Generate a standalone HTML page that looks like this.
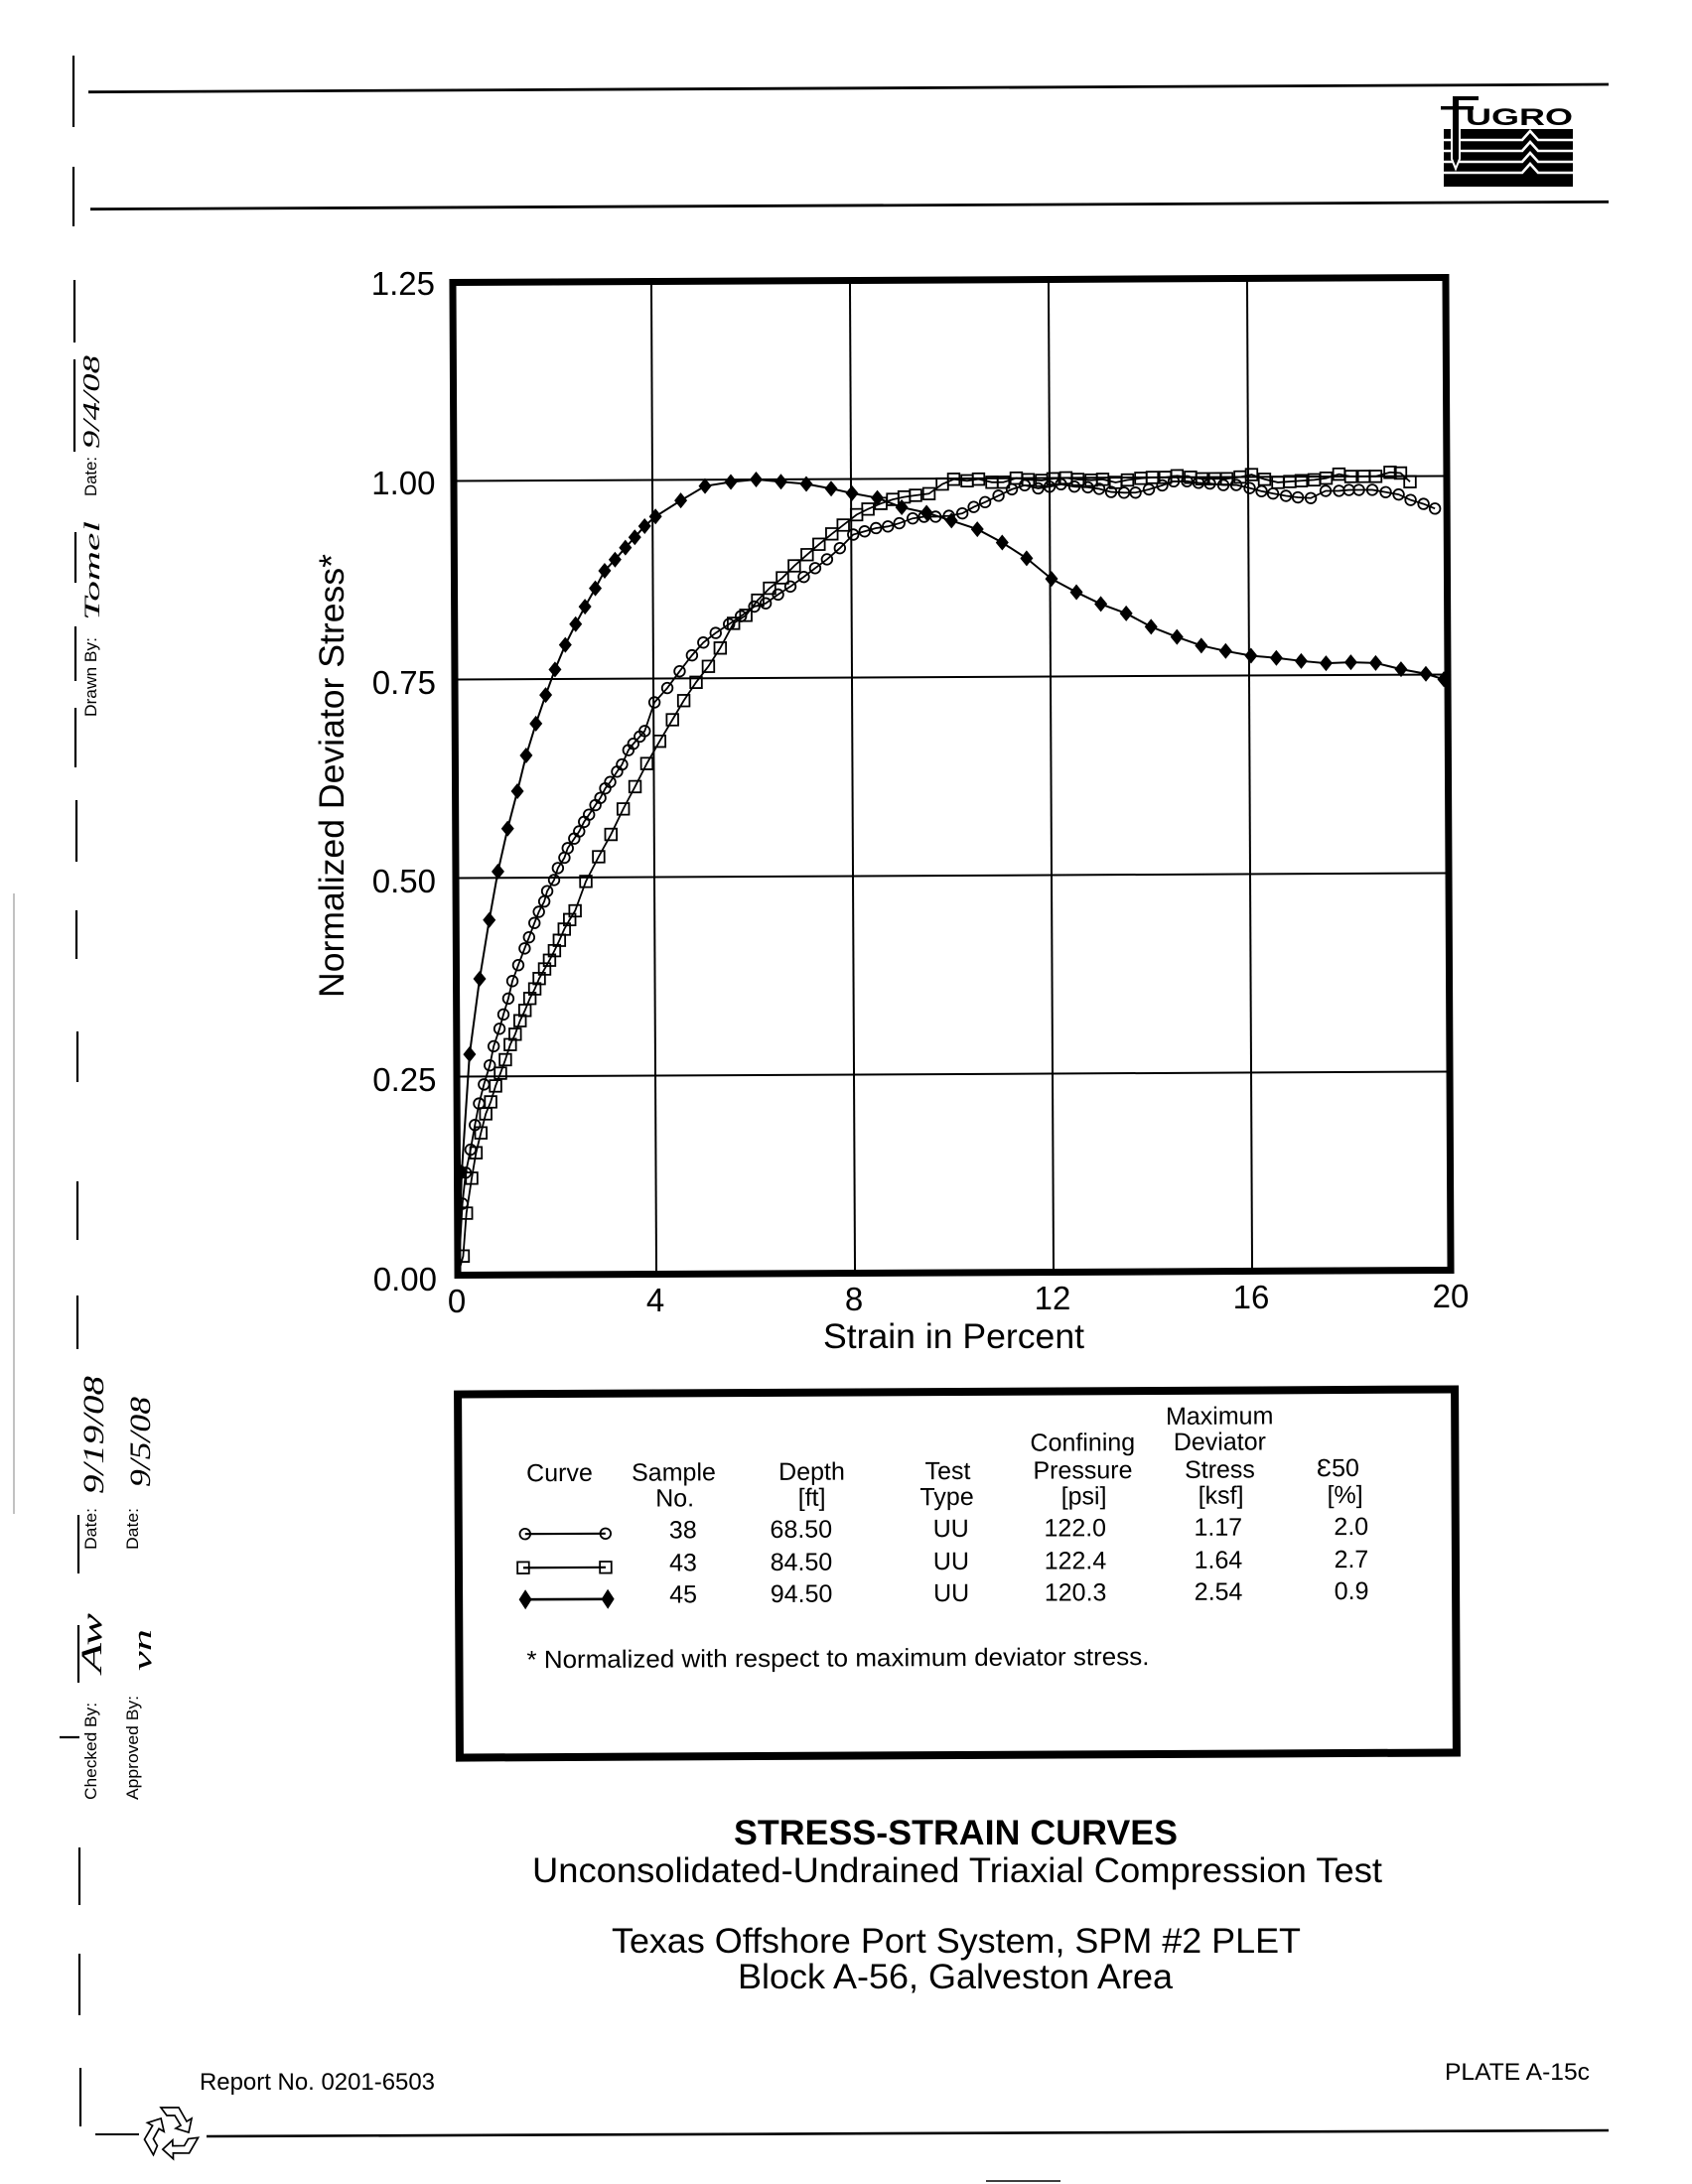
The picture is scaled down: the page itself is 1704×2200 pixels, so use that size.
<!DOCTYPE html>
<html><head><meta charset="utf-8">
<style>
html,body{margin:0;padding:0;background:#fff}
svg{display:block}
text{font-family:"Liberation Sans",Arial,sans-serif;fill:#000}
.hw{font-family:"Liberation Serif",serif;font-style:italic}
</style></head>
<body>
<svg xmlns="http://www.w3.org/2000/svg" width="1704" height="2200" viewBox="0 0 1704 2200">
<rect width="1704" height="2200" fill="#fff"/>
<defs>
<circle id="c" r="5.3" fill="none" stroke="#000" stroke-width="1.8"/>
<rect id="s" x="-5.8" y="-5.8" width="11.6" height="11.6" fill="none" stroke="#000" stroke-width="1.8"/>
<path id="d" d="M0,-8L6.5,0L0,8L-6.5,0Z" fill="#000"/>
<path id="dl" d="M0,-10L6.5,0L0,10L-6.5,0Z" fill="#000"/>
</defs>

<!-- header rules -->
<line x1="89" y1="92.7" x2="1620" y2="85" stroke="#000" stroke-width="2.8"/>
<line x1="91" y1="210.7" x2="1620" y2="203.3" stroke="#000" stroke-width="2.8"/>

<!-- Fugro logo -->
<g>
<rect x="1454" y="130" width="130" height="58" fill="#000"/>
<g fill="none" stroke="#fff" stroke-width="2.6">
<polyline points="1454,141 1533,141 1541,132 1549,141 1584,141"/>
<polyline points="1454,152 1533,152 1541,143 1549,152 1584,152"/>
<polyline points="1454,163 1533,163 1541,154 1549,163 1584,163"/>
<polyline points="1454,174 1533,174 1541,165 1549,174 1584,174"/>
</g>
<path d="M1462,130 L1462,160 L1466,170 L1470,160 L1470,130" fill="#000" stroke="#fff" stroke-width="2"/>
<rect x="1463" y="98" width="6" height="34" fill="#000"/>
<rect x="1463" y="97" width="26" height="4" fill="#000"/>
<rect x="1451" y="107" width="33" height="3.5" fill="#000"/>
<text x="1476" y="126" font-size="24" font-weight="bold" textLength="108" lengthAdjust="spacingAndGlyphs">UGRO</text>
</g>

<!-- left margin lines -->
<g stroke="#000" stroke-width="2.2">
<line x1="74" y1="56" x2="74" y2="128"/>
<line x1="74" y1="168" x2="74" y2="228"/>
<line x1="75" y1="282" x2="75" y2="345"/>
<line x1="75" y1="362" x2="75" y2="455"/>
<line x1="76" y1="536" x2="76" y2="587"/>
<line x1="76" y1="631" x2="76" y2="686"/>
<line x1="76" y1="713" x2="76" y2="773"/>
<line x1="77" y1="806" x2="77" y2="868"/>
<line x1="77" y1="917" x2="77" y2="966"/>
<line x1="78" y1="1039" x2="78" y2="1090"/>
<line x1="78" y1="1190" x2="78" y2="1249"/>
<line x1="78" y1="1305" x2="78" y2="1359"/>
<line x1="79" y1="1526" x2="79" y2="1585"/>
<line x1="79" y1="1637" x2="79" y2="1695"/>
<line x1="60" y1="1750" x2="80" y2="1750"/>
<line x1="80" y1="1861" x2="80" y2="1919"/>
<line x1="80" y1="1968" x2="80" y2="2030"/>
<line x1="81" y1="2083" x2="81" y2="2142"/>
</g>
<line x1="14" y1="900" x2="14" y2="1525" stroke="#999" stroke-width="1.2"/>

<!-- left margin text -->
<text transform="translate(97,500) rotate(-90)" font-size="17" textLength="40" lengthAdjust="spacingAndGlyphs">Date:</text>
<text class="hw" transform="translate(100,452) rotate(-90)" font-size="24" textLength="94" lengthAdjust="spacingAndGlyphs">9/4/08</text>
<text transform="translate(97,722) rotate(-90)" font-size="17" textLength="80" lengthAdjust="spacingAndGlyphs">Drawn By:</text>
<text class="hw" transform="translate(100,625) rotate(-90)" font-size="22" textLength="100" lengthAdjust="spacingAndGlyphs">Tomel</text>
<text transform="translate(97,1561) rotate(-90)" font-size="17" textLength="42" lengthAdjust="spacingAndGlyphs">Date:</text>
<text transform="translate(139,1561) rotate(-90)" font-size="17" textLength="42" lengthAdjust="spacingAndGlyphs">Date:</text>
<text class="hw" transform="translate(104,1505) rotate(-90)" font-size="30" textLength="119" lengthAdjust="spacingAndGlyphs">9/19/08</text>
<text class="hw" transform="translate(151,1498) rotate(-90)" font-size="30" textLength="91" lengthAdjust="spacingAndGlyphs">9/5/08</text>
<text transform="translate(97,1813) rotate(-90)" font-size="17" textLength="98" lengthAdjust="spacingAndGlyphs">Checked By:</text>
<text transform="translate(139,1813) rotate(-90)" font-size="17" textLength="105" lengthAdjust="spacingAndGlyphs">Approved By:</text>
<text class="hw" transform="translate(102,1685) rotate(-90)" font-size="30" textLength="60" lengthAdjust="spacingAndGlyphs">Aw</text>
<text class="hw" transform="translate(152,1683) rotate(-90)" font-size="26" textLength="42" lengthAdjust="spacingAndGlyphs">vn</text>

<!-- axis labels -->
<g font-size="33" text-anchor="end">
<text x="438" y="297">1.25</text>
<text x="438.5" y="498">1.00</text>
<text x="439" y="699">0.75</text>
<text x="439" y="899">0.50</text>
<text x="439.5" y="1099">0.25</text>
<text x="440" y="1300">0.00</text>
</g>
<g font-size="33" text-anchor="middle">
<text x="460" y="1322">0</text>
<text x="660" y="1321">4</text>
<text x="860" y="1320">8</text>
<text x="1060" y="1319">12</text>
<text x="1260" y="1318">16</text>
<text x="1461" y="1317">20</text>
</g>
<text x="829" y="1358" font-size="35" textLength="263" lengthAdjust="spacingAndGlyphs">Strain in Percent</text>
<text transform="translate(346,1005) rotate(-90)" font-size="35" textLength="447" lengthAdjust="spacingAndGlyphs">Normalized Deviator Stress*</text>

<!-- plot -->
<g transform="rotate(-0.29 958 782) translate(-2 -1)">
<g stroke="#000" stroke-width="2">
<line x1="660.5" y1="283" x2="660.5" y2="1283"/>
<line x1="860.5" y1="283" x2="860.5" y2="1283"/>
<line x1="1060.5" y1="283" x2="1060.5" y2="1283"/>
<line x1="1260.5" y1="283" x2="1260.5" y2="1283"/>
<line x1="460.5" y1="483" x2="1460.5" y2="483"/>
<line x1="460.5" y1="683" x2="1460.5" y2="683"/>
<line x1="460.5" y1="883" x2="1460.5" y2="883"/>
<line x1="460.5" y1="1083" x2="1460.5" y2="1083"/>
</g>

<!-- series 38 circles -->
<polyline fill="none" stroke="#000" stroke-width="1.8" points="460.5,1283 463,1251 465.5,1211 469,1179.8 474,1156.6 478.5,1131.8 482.8,1110.2 487.8,1091 493.8,1071.8 497.8,1052.6 503.8,1035 507.8,1020.6 512.8,1004.6 517,987 523,971 529.5,954.2 534,943 539.5,928.6 544,917.4 549.5,907 552.5,896.6 559.5,885.4 563.4,873.4 570,863 573.4,853.4 580,843.8 585,836.6 590,827 595,819.8 601.5,810.2 606.5,803 611.5,793.4 616.5,787 623.5,776.6 628.5,769.4 635,755 640,748.6 646.5,741.4 651.5,735.8 661.5,707 674.5,692.6 687,675.8 699.5,659.8 711,647 723.5,637.4 737,628.6 749,620.6 762.5,611 774,607.8 786.5,599 799,591 812.5,581.4 824,572.6 836,563.8 849,552.6 862.5,539 874,535.8 885.5,532.6 897.5,531 909,527.8 922.5,523 934,521.4 945.5,521.4 959,520.6 972.5,518.2 984,511.8 995.5,507 1009,500.6 1022.5,494.2 1035.5,490.2 1049,493.4 1060.5,491.8 1072,489.4 1085.5,491.8 1099,492.6 1110.5,494.2 1122.5,497.4 1135.5,498.2 1147,498.2 1160.5,495 1174,491 1185.5,487 1199,487 1210.5,488.6 1222,489.4 1235.5,491 1248.5,491 1262,494.2 1274,497.4 1285.5,499.8 1298.5,502.2 1310.5,503.8 1323.5,504.6 1338.5,497.4 1352,497.4 1362,496.6 1372,496.6 1385.5,496.6 1399,499 1412,501.4 1424,507 1437,511 1448.5,515.8"/>
<g>
<use href="#c" x="465.5" y="1211"/><use href="#c" x="469" y="1179.8"/><use href="#c" x="474" y="1156.6"/><use href="#c" x="478.5" y="1131.8"/><use href="#c" x="482.8" y="1110.2"/><use href="#c" x="487.8" y="1091"/><use href="#c" x="493.8" y="1071.8"/><use href="#c" x="497.8" y="1052.6"/><use href="#c" x="503.8" y="1035"/><use href="#c" x="507.8" y="1020.6"/><use href="#c" x="512.8" y="1004.6"/><use href="#c" x="517" y="987"/><use href="#c" x="523" y="971"/><use href="#c" x="529.5" y="954.2"/><use href="#c" x="534" y="943"/><use href="#c" x="539.5" y="928.6"/><use href="#c" x="544" y="917.4"/><use href="#c" x="549.5" y="907"/><use href="#c" x="552.5" y="896.6"/><use href="#c" x="559.5" y="885.4"/><use href="#c" x="563.4" y="873.4"/><use href="#c" x="570" y="863"/><use href="#c" x="573.4" y="853.4"/><use href="#c" x="580" y="843.8"/><use href="#c" x="585" y="836.6"/><use href="#c" x="590" y="827"/><use href="#c" x="595" y="819.8"/><use href="#c" x="601.5" y="810.2"/><use href="#c" x="606.5" y="803"/><use href="#c" x="611.5" y="793.4"/><use href="#c" x="616.5" y="787"/><use href="#c" x="623.5" y="776.6"/><use href="#c" x="628.5" y="769.4"/><use href="#c" x="635" y="755"/><use href="#c" x="640" y="748.6"/><use href="#c" x="646.5" y="741.4"/><use href="#c" x="651.5" y="735.8"/><use href="#c" x="661.5" y="707"/><use href="#c" x="674.5" y="692.6"/><use href="#c" x="687" y="675.8"/><use href="#c" x="699.5" y="659.8"/><use href="#c" x="711" y="647"/><use href="#c" x="723.5" y="637.4"/><use href="#c" x="737" y="628.6"/><use href="#c" x="749" y="620.6"/><use href="#c" x="762.5" y="611"/><use href="#c" x="774" y="607.8"/><use href="#c" x="786.5" y="599"/><use href="#c" x="799" y="591"/><use href="#c" x="812.5" y="581.4"/><use href="#c" x="824" y="572.6"/><use href="#c" x="836" y="563.8"/><use href="#c" x="849" y="552.6"/><use href="#c" x="862.5" y="539"/><use href="#c" x="874" y="535.8"/><use href="#c" x="885.5" y="532.6"/><use href="#c" x="897.5" y="531"/><use href="#c" x="909" y="527.8"/><use href="#c" x="922.5" y="523"/><use href="#c" x="934" y="521.4"/><use href="#c" x="945.5" y="521.4"/><use href="#c" x="959" y="520.6"/><use href="#c" x="972.5" y="518.2"/><use href="#c" x="984" y="511.8"/><use href="#c" x="995.5" y="507"/><use href="#c" x="1009" y="500.6"/><use href="#c" x="1022.5" y="494.2"/><use href="#c" x="1035.5" y="490.2"/><use href="#c" x="1049" y="493.4"/><use href="#c" x="1060.5" y="491.8"/><use href="#c" x="1072" y="489.4"/><use href="#c" x="1085.5" y="491.8"/><use href="#c" x="1099" y="492.6"/><use href="#c" x="1110.5" y="494.2"/><use href="#c" x="1122.5" y="497.4"/><use href="#c" x="1135.5" y="498.2"/><use href="#c" x="1147" y="498.2"/><use href="#c" x="1160.5" y="495"/><use href="#c" x="1174" y="491"/><use href="#c" x="1185.5" y="487"/><use href="#c" x="1199" y="487"/><use href="#c" x="1210.5" y="488.6"/><use href="#c" x="1222" y="489.4"/><use href="#c" x="1235.5" y="491"/><use href="#c" x="1248.5" y="491"/><use href="#c" x="1262" y="494.2"/><use href="#c" x="1274" y="497.4"/><use href="#c" x="1285.5" y="499.8"/><use href="#c" x="1298.5" y="502.2"/><use href="#c" x="1310.5" y="503.8"/><use href="#c" x="1323.5" y="504.6"/><use href="#c" x="1338.5" y="497.4"/><use href="#c" x="1352" y="497.4"/><use href="#c" x="1362" y="496.6"/><use href="#c" x="1372" y="496.6"/><use href="#c" x="1385.5" y="496.6"/><use href="#c" x="1399" y="499"/><use href="#c" x="1412" y="501.4"/><use href="#c" x="1424" y="507"/><use href="#c" x="1437" y="511"/><use href="#c" x="1448.5" y="515.8"/>
</g>

<!-- series 43 squares -->
<polyline fill="none" stroke="#000" stroke-width="1.8" points="460.5,1283 466,1263.8 469.5,1220.6 475,1185.4 479.5,1159.8 484.5,1139.8 489.5,1120.6 494.5,1108.6 499.5,1092.6 504.5,1079.8 509.5,1066.2 514.5,1051 519.5,1040.6 524.5,1027 529.5,1016.6 534.5,1004.6 539.5,995 544,984.6 549.5,975 554.5,966.2 559.5,956.6 564.5,946.2 569.5,935 575,925.4 580.5,916.6 591.5,887 604.5,862.2 617,839.8 629.5,814.2 641.5,791.8 653.5,768.6 666.5,746.2 679.5,724.6 691,705.4 703.5,687 716,671 728,652.6 741.5,627.8 754,619.8 766,604.6 778,592.6 791,582.2 803,570.2 816,559 828,548.6 841,538.2 852.5,529.4 866,519 877.5,513.4 890.5,507.8 902.5,503.8 914,501.4 925.5,499.8 939,498.2 952.5,488.6 964,483.8 977.5,485.4 989,483.8 1002.5,487 1014,487 1027,483 1039,484.6 1052.5,485.4 1064,483.8 1077,483 1089,484.6 1102.5,485.4 1114,484.6 1127,487.8 1139,485.4 1152.5,483.8 1164,483 1177,483 1189,481.4 1202.5,483 1214,484.6 1227,484.6 1239,484.6 1252.5,483 1264,480.6 1277,485.4 1290.5,488.6 1302.5,487.8 1314,487 1327,486.2 1339,484.6 1352,480.6 1364,483 1377,483 1389,483 1403.5,479 1414,479.8 1423.5,488.6"/>
<g>
<use href="#s" x="466" y="1263.8"/><use href="#s" x="469.5" y="1220.6"/><use href="#s" x="475" y="1185.4"/><use href="#s" x="479.5" y="1159.8"/><use href="#s" x="484.5" y="1139.8"/><use href="#s" x="489.5" y="1120.6"/><use href="#s" x="494.5" y="1108.6"/><use href="#s" x="499.5" y="1092.6"/><use href="#s" x="504.5" y="1079.8"/><use href="#s" x="509.5" y="1066.2"/><use href="#s" x="514.5" y="1051"/><use href="#s" x="519.5" y="1040.6"/><use href="#s" x="524.5" y="1027"/><use href="#s" x="529.5" y="1016.6"/><use href="#s" x="534.5" y="1004.6"/><use href="#s" x="539.5" y="995"/><use href="#s" x="544" y="984.6"/><use href="#s" x="549.5" y="975"/><use href="#s" x="554.5" y="966.2"/><use href="#s" x="559.5" y="956.6"/><use href="#s" x="564.5" y="946.2"/><use href="#s" x="569.5" y="935"/><use href="#s" x="575" y="925.4"/><use href="#s" x="580.5" y="916.6"/><use href="#s" x="591.5" y="887"/><use href="#s" x="604.5" y="862.2"/><use href="#s" x="617" y="839.8"/><use href="#s" x="629.5" y="814.2"/><use href="#s" x="641.5" y="791.8"/><use href="#s" x="653.5" y="768.6"/><use href="#s" x="666.5" y="746.2"/><use href="#s" x="679.5" y="724.6"/><use href="#s" x="691" y="705.4"/><use href="#s" x="703.5" y="687"/><use href="#s" x="716" y="671"/><use href="#s" x="728" y="652.6"/><use href="#s" x="741.5" y="627.8"/><use href="#s" x="754" y="619.8"/><use href="#s" x="766" y="604.6"/><use href="#s" x="778" y="592.6"/><use href="#s" x="791" y="582.2"/><use href="#s" x="803" y="570.2"/><use href="#s" x="816" y="559"/><use href="#s" x="828" y="548.6"/><use href="#s" x="841" y="538.2"/><use href="#s" x="852.5" y="529.4"/><use href="#s" x="866" y="519"/><use href="#s" x="877.5" y="513.4"/><use href="#s" x="890.5" y="507.8"/><use href="#s" x="902.5" y="503.8"/><use href="#s" x="914" y="501.4"/><use href="#s" x="925.5" y="499.8"/><use href="#s" x="939" y="498.2"/><use href="#s" x="952.5" y="488.6"/><use href="#s" x="964" y="483.8"/><use href="#s" x="977.5" y="485.4"/><use href="#s" x="989" y="483.8"/><use href="#s" x="1002.5" y="487"/><use href="#s" x="1014" y="487"/><use href="#s" x="1027" y="483"/><use href="#s" x="1039" y="484.6"/><use href="#s" x="1052.5" y="485.4"/><use href="#s" x="1064" y="483.8"/><use href="#s" x="1077" y="483"/><use href="#s" x="1089" y="484.6"/><use href="#s" x="1102.5" y="485.4"/><use href="#s" x="1114" y="484.6"/><use href="#s" x="1127" y="487.8"/><use href="#s" x="1139" y="485.4"/><use href="#s" x="1152.5" y="483.8"/><use href="#s" x="1164" y="483"/><use href="#s" x="1177" y="483"/><use href="#s" x="1189" y="481.4"/><use href="#s" x="1202.5" y="483"/><use href="#s" x="1214" y="484.6"/><use href="#s" x="1227" y="484.6"/><use href="#s" x="1239" y="484.6"/><use href="#s" x="1252.5" y="483"/><use href="#s" x="1264" y="480.6"/><use href="#s" x="1277" y="485.4"/><use href="#s" x="1290.5" y="488.6"/><use href="#s" x="1302.5" y="487.8"/><use href="#s" x="1314" y="487"/><use href="#s" x="1327" y="486.2"/><use href="#s" x="1339" y="484.6"/><use href="#s" x="1352" y="480.6"/><use href="#s" x="1364" y="483"/><use href="#s" x="1377" y="483"/><use href="#s" x="1389" y="483"/><use href="#s" x="1403.5" y="479"/><use href="#s" x="1414" y="479.8"/><use href="#s" x="1423.5" y="488.6"/>
</g>

<!-- series 45 diamonds -->
<polyline fill="none" stroke="#000" stroke-width="2" points="460.5,1283 462,1259 465,1179 473.5,1060.6 484,984.6 494,925.4 503,876.6 513,833.4 523,795.8 532,759.8 542,727.8 552,699 561.5,673.4 572,648.6 582.5,627.8 592,610.2 602.5,591.8 612,574.2 622.5,563 633,551 642.5,540.6 652.5,529.4 663.5,519.8 689,503.8 713.5,489.4 739.5,485.4 765,483 790,485.4 815.5,487.8 840.5,492.6 861.5,497.4 887,502.2 911.5,511.8 936.5,517.4 961.5,525.4 987.5,534.2 1012.5,547.8 1037,563.8 1062,584.6 1087,598.2 1111.5,610.2 1137,619.8 1162,633.4 1188,643.8 1212.5,652.6 1237,658.2 1262.5,663 1288,665.4 1313,668.6 1338,671 1363,670.2 1388,671 1413.5,677.4 1438.5,682.2 1456.5,687.8"/>
<g>
<use href="#d" x="465" y="1179"/><use href="#d" x="473.5" y="1060.6"/><use href="#d" x="484" y="984.6"/><use href="#d" x="494" y="925.4"/><use href="#d" x="503" y="876.6"/><use href="#d" x="513" y="833.4"/><use href="#d" x="523" y="795.8"/><use href="#d" x="532" y="759.8"/><use href="#d" x="542" y="727.8"/><use href="#d" x="552" y="699"/><use href="#d" x="561.5" y="673.4"/><use href="#d" x="572" y="648.6"/><use href="#d" x="582.5" y="627.8"/><use href="#d" x="592" y="610.2"/><use href="#d" x="602.5" y="591.8"/><use href="#d" x="612" y="574.2"/><use href="#d" x="622.5" y="563"/><use href="#d" x="633" y="551"/><use href="#d" x="642.5" y="540.6"/><use href="#d" x="652.5" y="529.4"/><use href="#d" x="663.5" y="519.8"/><use href="#d" x="689" y="503.8"/><use href="#d" x="713.5" y="489.4"/><use href="#d" x="739.5" y="485.4"/><use href="#d" x="765" y="483"/><use href="#d" x="790" y="485.4"/><use href="#d" x="815.5" y="487.8"/><use href="#d" x="840.5" y="492.6"/><use href="#d" x="861.5" y="497.4"/><use href="#d" x="887" y="502.2"/><use href="#d" x="911.5" y="511.8"/><use href="#d" x="936.5" y="517.4"/><use href="#d" x="961.5" y="525.4"/><use href="#d" x="987.5" y="534.2"/><use href="#d" x="1012.5" y="547.8"/><use href="#d" x="1037" y="563.8"/><use href="#d" x="1062" y="584.6"/><use href="#d" x="1087" y="598.2"/><use href="#d" x="1111.5" y="610.2"/><use href="#d" x="1137" y="619.8"/><use href="#d" x="1162" y="633.4"/><use href="#d" x="1188" y="643.8"/><use href="#d" x="1212.5" y="652.6"/><use href="#d" x="1237" y="658.2"/><use href="#d" x="1262.5" y="663"/><use href="#d" x="1288" y="665.4"/><use href="#d" x="1313" y="668.6"/><use href="#d" x="1338" y="671"/><use href="#d" x="1363" y="670.2"/><use href="#d" x="1388" y="671"/><use href="#d" x="1413.5" y="677.4"/><use href="#d" x="1438.5" y="682.2"/><use href="#d" x="1456.5" y="687.8"/>
</g>

<rect x="460.5" y="283" width="1000" height="1000" fill="none" stroke="#000" stroke-width="7"/>
</g>

<!-- legend table -->
<g transform="rotate(-0.29 965 1585)">
<rect x="462" y="1402" width="1004" height="366" fill="none" stroke="#000" stroke-width="8"/>
<g font-size="25" text-anchor="middle">
<text x="1229" y="1436">Maximum</text>
<text x="1091" y="1462">Confining</text>
<text x="1229" y="1462">Deviator</text>
<text x="564" y="1490">Curve</text>
<text x="679" y="1490">Sample</text>
<text x="818" y="1490">Depth</text>
<text x="955" y="1490">Test</text>
<text x="1091" y="1490">Pressure</text>
<text x="1229" y="1490">Stress</text>
<text x="1348" y="1489" style="font-family:'Liberation Sans','DejaVu Sans',sans-serif">Ɛ50</text>
<text x="680" y="1516">No.</text>
<text x="818" y="1516">[ft]</text>
<text x="954" y="1516">Type</text>
<text x="1092" y="1516">[psi]</text>
<text x="1230" y="1516">[ksf]</text>
<text x="1355" y="1516">[%]</text>

<text x="688" y="1548">38</text>
<text x="807" y="1548">68.50</text>
<text x="958" y="1548">UU</text>
<text x="1083" y="1548">122.0</text>
<text x="1227" y="1548">1.17</text>
<text x="1361" y="1548">2.0</text>

<text x="688" y="1581">43</text>
<text x="807" y="1581">84.50</text>
<text x="958" y="1581">UU</text>
<text x="1083" y="1581">122.4</text>
<text x="1227" y="1581">1.64</text>
<text x="1361" y="1581">2.7</text>

<text x="688" y="1613">45</text>
<text x="807" y="1613">94.50</text>
<text x="958" y="1613">UU</text>
<text x="1083" y="1613">120.3</text>
<text x="1227" y="1613">2.54</text>
<text x="1361" y="1613">0.9</text>
</g>
<line x1="529" y1="1543" x2="610" y2="1543" stroke="#000" stroke-width="2.2"/>
<use href="#c" x="529" y="1543"/><use href="#c" x="610" y="1543"/>
<line x1="527" y1="1577" x2="610" y2="1577" stroke="#000" stroke-width="2.2"/>
<use href="#s" x="527" y="1577"/><use href="#s" x="610" y="1577"/>
<line x1="529" y1="1609" x2="612" y2="1609" stroke="#000" stroke-width="2.6"/>
<use href="#dl" x="529" y="1609"/><use href="#dl" x="612" y="1609"/>
<text x="530" y="1678" font-size="25" textLength="627" lengthAdjust="spacingAndGlyphs">* Normalized with respect to maximum deviator stress.</text>
</g>

<!-- titles -->
<text x="739" y="1858" font-size="35" font-weight="bold" textLength="447" lengthAdjust="spacingAndGlyphs">STRESS-STRAIN CURVES</text>
<text x="536" y="1896" font-size="35" textLength="856" lengthAdjust="spacingAndGlyphs">Unconsolidated-Undrained Triaxial Compression Test</text>
<text x="616" y="1967" font-size="35" textLength="694" lengthAdjust="spacingAndGlyphs">Texas Offshore Port System, SPM #2 PLET</text>
<text x="743" y="2003" font-size="35" textLength="438" lengthAdjust="spacingAndGlyphs">Block A-56, Galveston Area</text>

<!-- footer -->
<text x="201" y="2105" font-size="24" textLength="237" lengthAdjust="spacingAndGlyphs">Report No. 0201-6503</text>
<text x="1455" y="2095" font-size="24" textLength="146" lengthAdjust="spacingAndGlyphs">PLATE A-15c</text>
<line x1="208" y1="2152" x2="1620" y2="2146" stroke="#000" stroke-width="2.6"/>
<line x1="96" y1="2150" x2="140" y2="2150" stroke="#000" stroke-width="2"/>
<g transform="translate(172,2149)" fill="none" stroke="#000" stroke-width="1.7">
<g><path d="M-10,-26 L8,-26 L16,-12 L21,-15 L18,-1 L5,-5 L10,-8 L4,-18 L-4,-18 Z"/></g>
<g transform="rotate(120)"><path d="M-10,-26 L8,-26 L16,-12 L21,-15 L18,-1 L5,-5 L10,-8 L4,-18 L-4,-18 Z"/></g>
<g transform="rotate(240)"><path d="M-10,-26 L8,-26 L16,-12 L21,-15 L18,-1 L5,-5 L10,-8 L4,-18 L-4,-18 Z"/></g>
</g>
<line x1="993" y1="2197" x2="1068" y2="2197" stroke="#000" stroke-width="1.5"/>
</svg>
</body></html>
